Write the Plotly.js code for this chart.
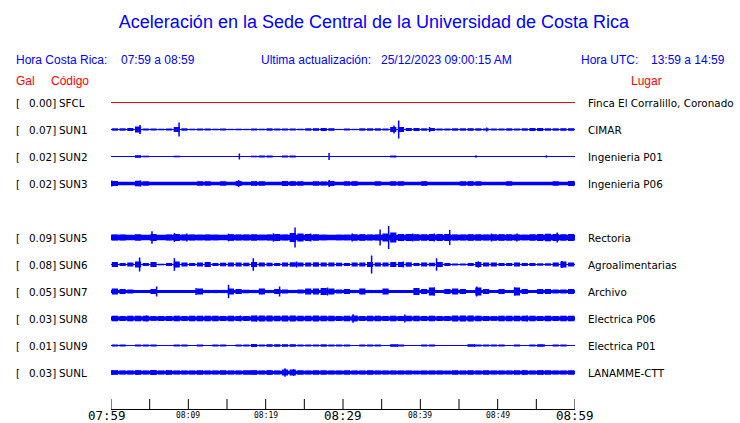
<!DOCTYPE html>
<html><head><meta charset="utf-8">
<script src="https://cdn.plot.ly/plotly-3.0.1.min.js"></script>
<style>html,body{margin:0;padding:0;background:#fff}#chart{width:740px;height:423px}</style>
</head><body><div id="chart"></div>
<script>
// ---------- data ----------
const codes  = ['SFCL','SUN1','SUN2','SUN3','SUN5','SUN6','SUN7','SUN8','SUN9','SUNL'];
const places = ['Finca El Corralillo, Coronado','CIMAR','Ingenieria P01','Ingenieria P06','Rectoria','Agroalimentarias','Archivo','Electrica P06','Electrica P01','LANAMME-CTT'];
const galValues = ['0.00','0.07','0.02','0.02','0.09','0.08','0.05','0.03','0.01','0.03'];
const tickLabels = ['07:59','08:09','08:19','08:29','08:39','08:49','08:59'];
const tickMinutes = [0,5,10,15,20,25,30,35,40,45,50,55,60];
// continuous band half-thickness (amplitude units)
const floorAmp = [0.5,0.5,0.5,1.8,2.7,0.6,1.5,2.0,0.5,1.7];
// per-minute envelope half-amplitude (60 one-minute bins from 07:59)
const envSFCL = [0,0,0,0,0,0,0,0,0,0, 0,0,0,0,0,0,0,0,0,0, 0,0,0,0,0,0,0,0,0,0, 0,0,0,0,0,0,0,0,0,0, 0,0,0,0,0,0,0,0,0,0, 0,0,0,0,0,0,0,0,0,0];
const envSUN1 = [1.2,1.2,1.5,3,1,1,0.8,1,2.5,1.2, 0.8,1,1,0.8,1,0.7,0.8,0.7,1,0.8, 1.2,1,1,1,0.8,1.2,1.3,1.5,1.3,0.6, 1,0.7,1.2,1.2,1.2,1,2.5,2.5,1.5,1.5, 1.2,1.5,1,1,1.2,1.2,1.3,1.2,1,1, 1,1.2,1,1.2,1.5,1.5,1.2,1.2,1.3,1.3];
const envSUN2 = [0.5,0.5,0.5,1.3,0.8,0.5,0.5,0.5,0.8,0.5, 0.5,0.5,0.5,0.5,0.5,0.5,0.5,0.5,0.8,1, 1,0.5,1,1,0.5,0.5,0.5,0.5,0.5,0.5, 0.5,0.5,0.5,0.5,0.5,0.5,1,0.5,0.5,0.5, 0.5,0.5,0.5,0.5,0.5,0.5,0.5,0.5,0.5,0.5, 0.5,0.5,0.5,0.5,0.5,0.5,0.5,0.5,0.5,0.5];
const envSUN3 = [2.5,1.8,1.8,2.8,2.2,1.8,1.8,1.8,1.8,1.8, 1.8,2.2,2.2,1.8,2.2,1.8,2.5,1.8,2.3,2.2, 1.8,1.8,2.5,2.3,2.2,1.8,2.2,2,2.5,1.8, 2.2,2.3,1.8,1.8,2.2,1.8,2.2,2.2,1.8,1.8, 2.3,1.8,1.8,1.8,1.8,2.2,2.3,2.2,1.8,1.8, 1.8,2.2,1.8,1.8,1.8,1.8,1.8,2.2,1.8,2.5];
const envSUN5 = [3,3,2.7,3.2,2.7,3.5,2.7,3,3.5,3, 3,2.8,3,2.8,2.7,3.3,3,3,3.2,2.8, 3,3.5,3,4.5,4,3.5,3.2,2.8,2.7,2.8, 2.8,3.2,3.3,3,3,4,5,3.5,3.5,3.3, 3.2,3.5,3.5,3.5,3,3,3.3,3.2,3,3.2, 3.3,3.2,3,2.8,3.2,3.5,3.8,3.5,3.2,3.5];
const envSUN6 = [2.5,1.5,2,3,1.5,2.5,0.8,1.5,3,2, 1.5,2,2.5,1.5,1.8,2,2,1.8,2.5,2, 1.8,1.5,2,2.2,2,2,2.2,2,2,1.8, 1.5,2,2,2.5,2,2,2.5,2.5,2.2,1.5, 2,1.8,2.5,1.5,1,1,1.5,2.5,2,2, 1.5,1.5,2,1.5,1.5,1.2,1.2,2,3,2];
const envSUN7 = [3,2.5,2,1.5,1.5,2.5,1.5,1.5,1.5,1.5, 1.5,3,1.6,1.6,1.6,3,2.5,1.8,1.6,3, 1.6,2.5,2,1.6,2,3,3,3.5,3,2, 2.5,1.6,3,1.6,1.6,3,1.5,1.5,1.5,3.5, 2.5,4,1.5,2.5,3,2.5,1.5,4,2.5,1.5, 2.5,1.5,4,2.5,1.5,2.5,2.5,2,2,2.5];
const envSUN8 = [2.8,2.5,2.8,2.8,2.8,2.3,2.5,2.5,2.8,2.5, 2.8,2.8,2.8,2.8,2.5,2.8,2.5,2.5,3,3, 3,2.8,3,3,2.8,2.8,3,2.8,2.8,2.5, 2.8,3,2.5,2.8,2.8,2.5,2.8,2.5,2.8,2.8, 2.5,2.8,2.5,2.5,3,3,3,2.8,2.5,2.3, 2.8,2.8,2.8,2.8,2.8,2.5,2.8,2.5,2.8,2.8];
const envSUN9 = [1,1,0.5,1,1,1,0.5,0.5,1,1, 0.5,1,0.5,1,1,0.5,1,1,1.5,1, 1.3,1.3,1.3,1.3,1,1,1,1.2,1,1, 1,0.5,1,1,1,0.5,1.3,1,0.5,0.5, 1,1,0.5,0.5,0.5,0.5,1.3,1,1,1, 1,0.5,1,0.5,1,1.3,0.5,1,1,0.5];
const envSUNL = [2.3,2,2,2.3,2,2.5,2,2.3,2,2, 2,2.2,2,2,2.2,2,2,2.2,2.3,2, 2.3,2,3,3,2.2,2,2.2,2.2,2,2, 2.2,2,2,2.2,2,2,2,2,2,1.8, 2,2,2,1.8,2.2,2,2.2,2,2.2,2, 2,2,2.2,2.3,2,2.3,2.2,2,2,2.2];
// isolated peaks: [minute, half-amplitude]
const spkSFCL = [];
const spkSUN1 = [[3.75,4.5],[8.8,7],[36.6,4],[37.2,9],[41.2,2.5],[48.6,2]];
const spkSUN2 = [[16.6,3],[28.2,3.5],[47.2,1.2],[56.3,1.2]];
const spkSUN3 = [[0.1,3],[3.8,3],[16.5,3.5],[28.2,3.5],[59.8,2.7]];
const spkSUN5 = [[5.3,6.3],[8.2,4.5],[9.8,4],[15.2,3.8],[21,4.2],[23.8,10],[25.8,4],[31.2,4],[34.8,8],[35.9,11.5],[39,4],[41.8,4],[43.8,7.5],[49.2,4],[52.5,4],[57.7,5]];
const spkSUN6 = [[3.7,7],[8.2,6.3],[18.4,6.3],[24,3],[33.7,9],[37.8,3],[42.1,6.2],[47.5,3.2],[58.3,3.5]];
const spkSUN7 = [[5.9,5],[11,3.5],[15.2,6.7],[21.8,5],[28,4],[41.8,4],[47.3,5],[52.2,4]];
const spkSUN8 = [[4.6,3],[16.7,3],[18.8,3],[31.3,4.2],[38,4],[53.8,3]];
const spkSUN9 = [[18.5,1.5],[37,1.5],[47,1.5],[56,1.3]];
const spkSUNL = [[0.1,2.3],[3.4,2.3],[5.2,2.5],[7.2,2.3],[18,2.3],[20.4,2.3],[22.5,4.2],[23.6,3.3],[53.3,2.3],[55.8,2.5]];
const envelopes = [envSFCL,envSUN1,envSUN2,envSUN3,envSUN5,envSUN6,envSUN7,envSUN8,envSUN9,envSUNL];
const spikes = [spkSFCL,spkSUN1,spkSUN2,spkSUN3,spkSUN5,spkSUN6,spkSUN7,spkSUN8,spkSUN9,spkSUNL];

// ---------- layout constants ----------
const W = 740, H = 423, ML = 111, MR = 165, MT = 90, MB = 14;
const PW = W - ML - MR, PH = H - MT - MB;
const ROWPX = 27, AMP = 1 / ROWPX;          // one amplitude unit = 1px
const slot = i => (i < 4 ? i : i + 1);      // SUN4 slot left empty
const yTop = -12.5 / ROWPX, yBot = (PH - 12.5) / ROWPX;
const BLUE = '#0000ff', RED = '#ff0000';
const px = x => (x - ML) / PW;
const py = y => (H - MB - y) / PH;

const traces = [];
codes.forEach((c, i) => {
  const r = slot(i);
  const col = i === 0 ? RED : BLUE;
  traces.push({type:'scatter', mode:'lines', x:[0,60], y:[r,r],
    line:{color:col, width:Math.max(1, 2*floorAmp[i])}, hoverinfo:'skip', showlegend:false});
  const bx = [], bb = [], bh = [];
  envelopes[i].forEach((a, m) => {
    if (a > floorAmp[i]) { bx.push(m + 0.5); bb.push(r - a*AMP); bh.push(2*a*AMP); }
  });
  if (bx.length) traces.push({type:'bar', x:bx, y:bh, base:bb, width:0.8,
    marker:{color:col, line:{width:0}}, hoverinfo:'skip', showlegend:false});
  const sx = [], sy = [];
  spikes[i].forEach(([m, a]) => { sx.push(m, m, null); sy.push(r - a*AMP, r + a*AMP, null); });
  if (sx.length) traces.push({type:'scatter', mode:'lines', x:sx, y:sy,
    line:{color:col, width:1.5}, hoverinfo:'skip', showlegend:false});
});

const ann = [];
const A = (text, x, y, size, color, family, extra) => ann.push(Object.assign({
  text, xref:'paper', yref:'paper', x:px(x), y:py(y), xanchor:'left', yanchor:'middle',
  showarrow:false, borderpad:0, font:{size, color, family}}, extra || {}));
const SANS = 'Liberation Sans, Arial, sans-serif';
const DJ = 'DejaVu Sans, sans-serif';
A('Hora Costa Rica:', 15, 60.5, 12, BLUE, SANS);
A('07:59 a 08:59', 120, 60.5, 12, BLUE, SANS);
A('Ultima actualización:', 260, 60.5, 12, BLUE, SANS);
A('25/12/2023 09:00:15 AM', 380, 60.5, 12, BLUE, SANS);
A('Hora UTC:', 580, 60.5, 12, BLUE, SANS);
A('13:59 a 14:59', 650, 60.5, 12, BLUE, SANS);
A('Gal', 15, 81, 12, RED, SANS);
A('Código', 50, 81, 12, RED, SANS);
A('Lugar', 630, 81, 12, RED, SANS);
codes.forEach((c, i) => {
  const r = slot(i);
  const base = {yref:'y', y:r};
  A('[', 15, 0, 10.4, '#000', DJ, base);
  A(galValues[i] + ']', 27.5, 0, 10.4, '#000', DJ, base);
  A(c, 58, 0, 10.4, '#000', DJ, base);
  A(places[i], 587, 0, 10.4, '#000', DJ, base);
});
tickLabels.forEach((t, k) => {
  const big = k % 3 === 0;
  ann.push({text:t, xref:'x', yref:'paper', x:k*10, y:py(big ? 415.5 : 415),
    xanchor:'center', yanchor:'middle', showarrow:false, borderpad:0,
    xshift: k === 0 ? -4 : 0,
    font:{size: big ? 12.5 : 8, color:'#000', family:'DejaVu Sans Mono, monospace'}});
});
// tick marks drawn upward from the axis line
const shapes = tickMinutes.map(m => ({type:'line', xref:'x', yref:'paper', x0:m, x1:m,
  y0:0, y1:10/PH, line:{color:'#000', width:1}}));

const layout = {
  width:W, height:H, margin:{l:ML, r:MR, t:MT, b:MB, pad:0},
  paper_bgcolor:'#fff', plot_bgcolor:'#fff', showlegend:false, hovermode:false,
  barmode:'overlay',
  title:{text:'Aceleración en la Sede Central de la Universidad de Costa Rica',
    x:374/W, xref:'container', xanchor:'center', y:1 - 22/H, yref:'container', yanchor:'middle',
    font:{size:18, color:BLUE, family:SANS}},
  xaxis:{range:[0,60], ticks:'', showticklabels:false, showgrid:false,
    zeroline:false, showline:true, linecolor:'#000', linewidth:1, fixedrange:true},
  yaxis:{range:[yBot, yTop], visible:false, fixedrange:true},
  shapes, annotations:ann
};
Plotly.newPlot('chart', traces, layout, {displayModeBar:false, staticPlot:true});
</script></body></html>
